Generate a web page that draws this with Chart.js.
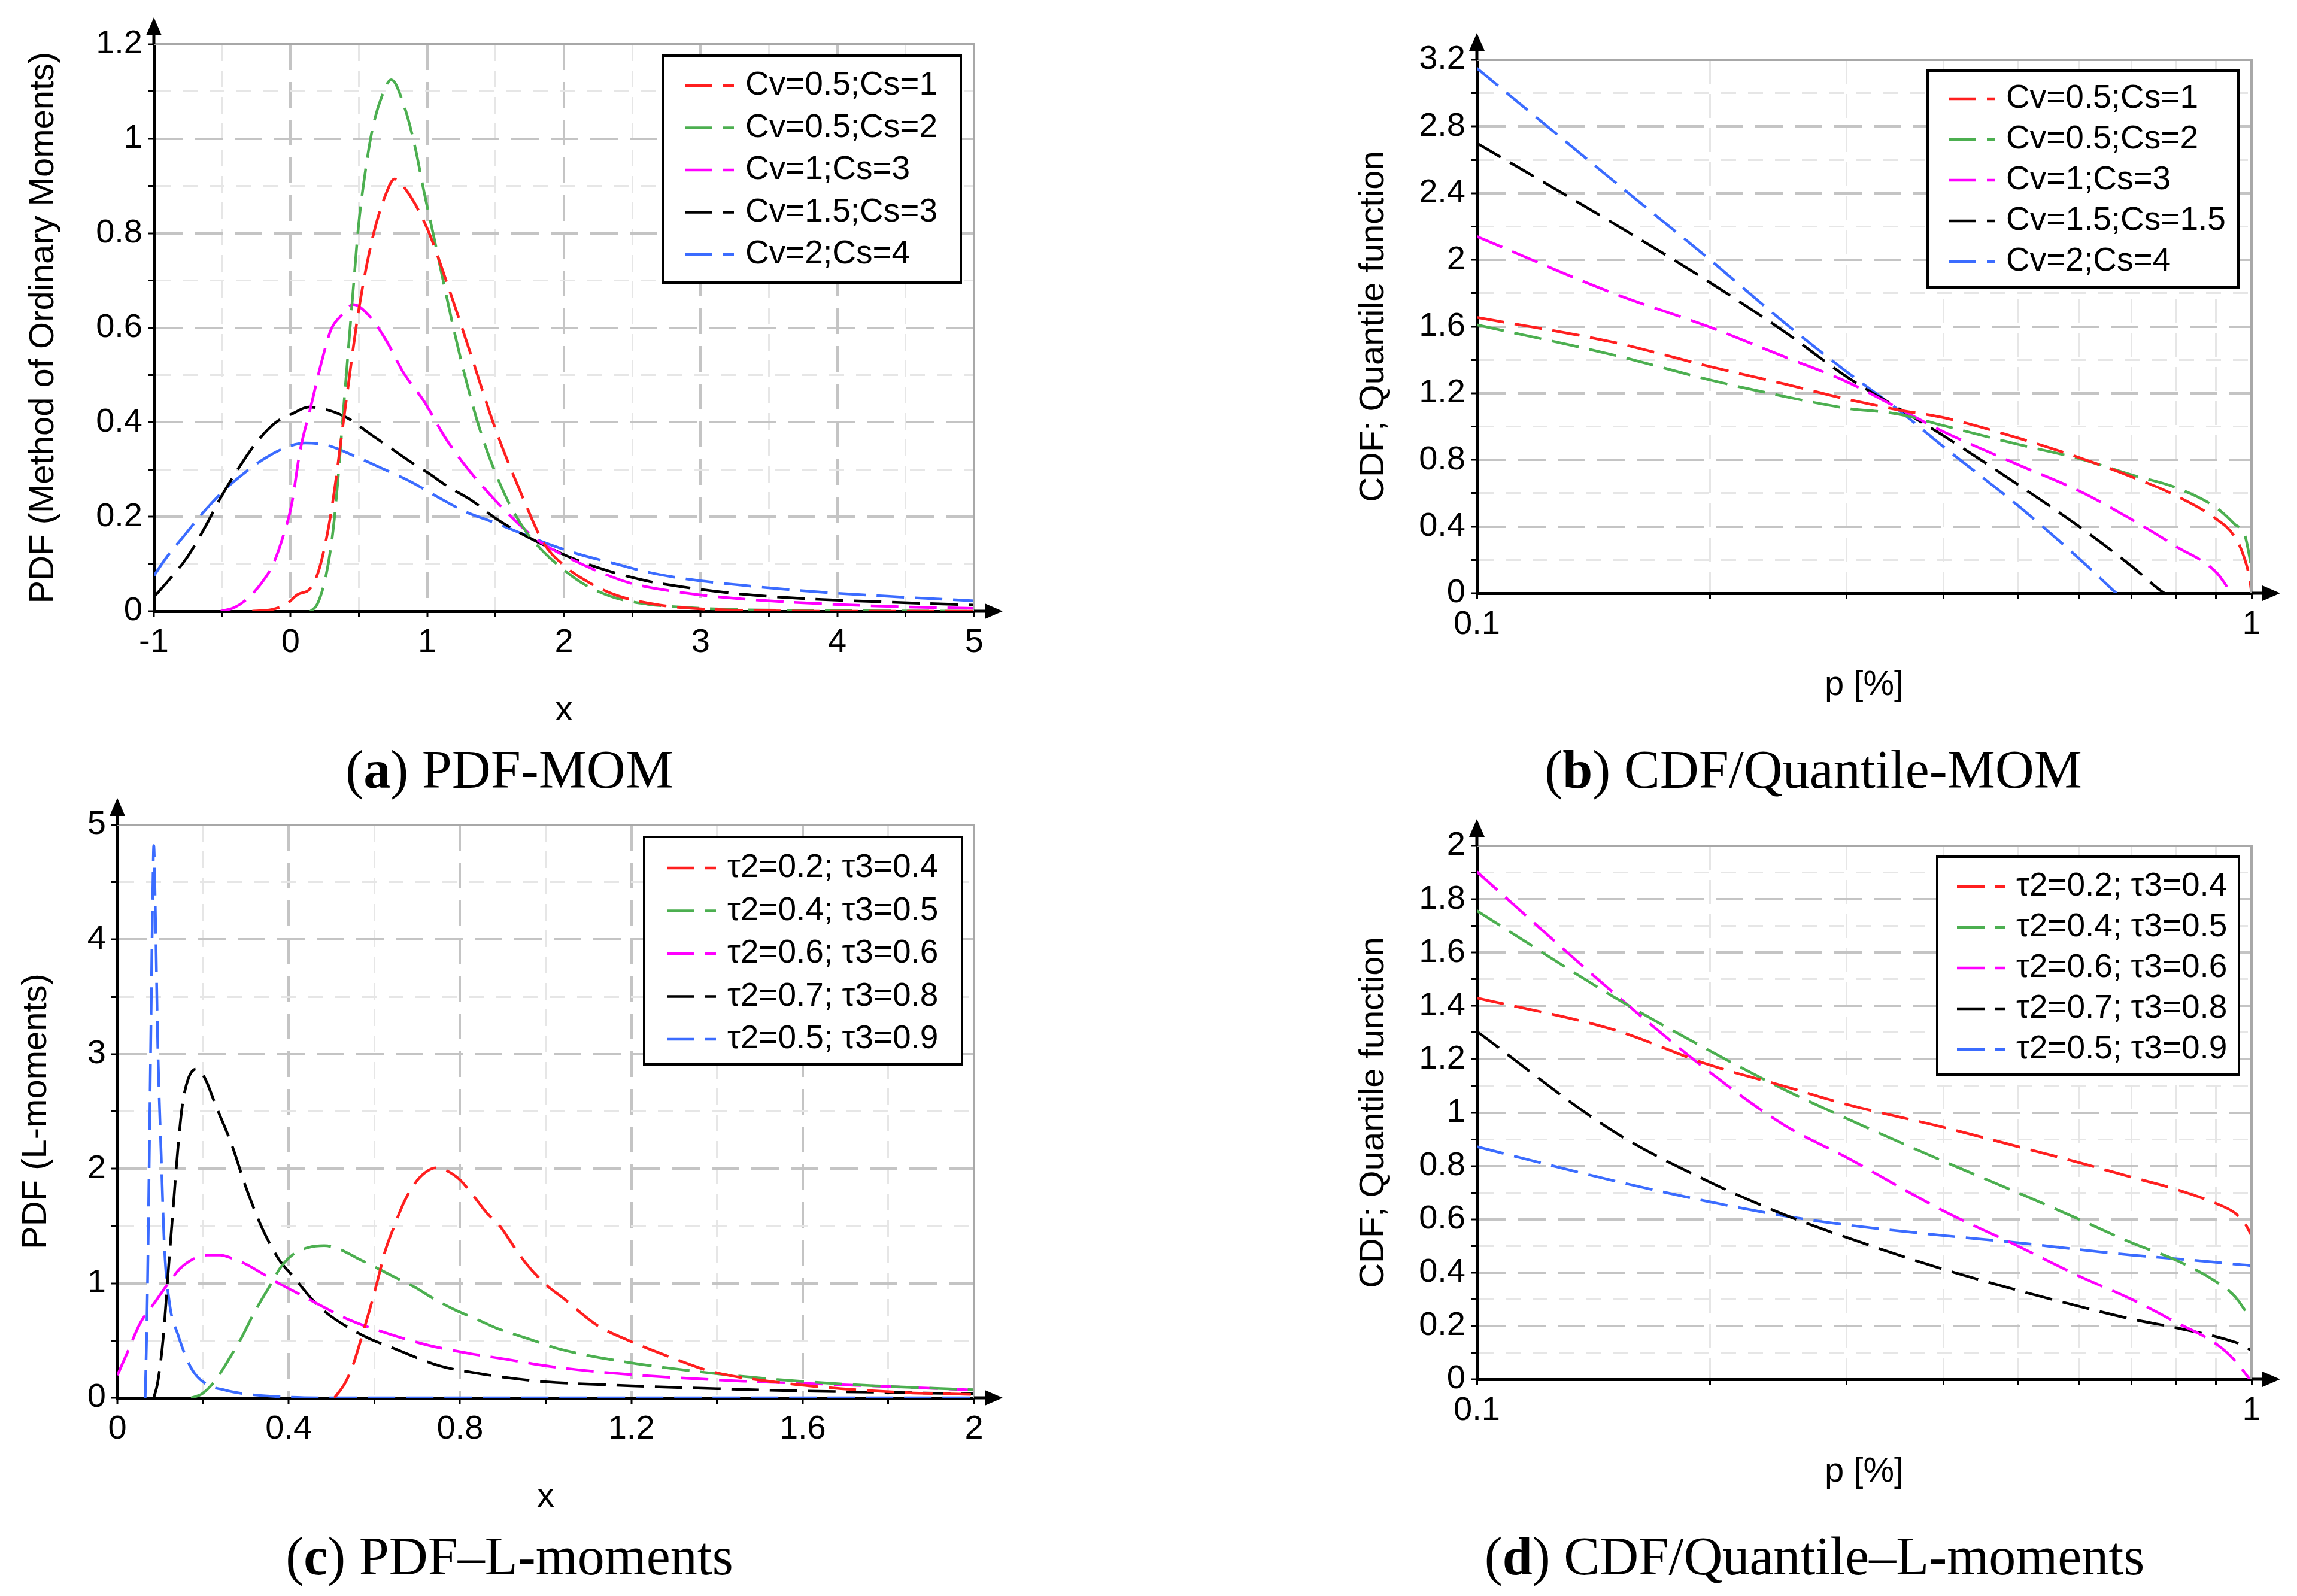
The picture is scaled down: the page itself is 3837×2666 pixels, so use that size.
<!DOCTYPE html>
<html>
<head>
<meta charset="utf-8">
<title>PDF and quantile functions</title>
<script src="https://cdn.jsdelivr.net/npm/chart.js@4.4.1/dist/chart.umd.min.js"></script>
<style>
  body { margin: 0; width: 3837px; height: 2666px; background: #fff; position: relative; overflow: hidden; }
  canvas { position: absolute; }
  .cap { position: absolute; transform: translate(-50%, -50%); white-space: nowrap;
         font-family: "Liberation Serif", "Times New Roman", serif; font-size: 90px; color: #000; }
</style>
</head>
<body>
<canvas id="pdfMom"></canvas>
<canvas id="cdfMom"></canvas>
<canvas id="pdfLmom"></canvas>
<canvas id="cdfLmom"></canvas>
<div class="cap" style="left:851px;top:1285px">(<b>a</b>) PDF-MOM</div>
<div class="cap" style="left:3029px;top:1285px">(<b>b</b>) CDF/Quantile-MOM</div>
<div class="cap" style="left:851px;top:2599px">(<b>c</b>) PDF–L-moments</div>
<div class="cap" style="left:3031px;top:2599px">(<b>d</b>) CDF/Quantile–L-moments</div>
<script>
// legend labels
const momLabels = ['Cv=0.5;Cs=1', 'Cv=0.5;Cs=2', 'Cv=1;Cs=3', 'Cv=1.5;Cs=3', 'Cv=2;Cs=4'];
const momQLabels = ['Cv=0.5;Cs=1', 'Cv=0.5;Cs=2', 'Cv=1;Cs=3', 'Cv=1.5;Cs=1.5', 'Cv=2;Cs=4'];
const lmomLabels = ['τ2=0.2; τ3=0.4', 'τ2=0.4; τ3=0.5', 'τ2=0.6; τ3=0.6', 'τ2=0.7; τ3=0.8', 'τ2=0.5; τ3=0.9'];
const seriesColors = ['#ff1f1f', '#4caf50', '#ff00ff', '#000000', '#3b6cff'];

// (a) PDF, method of ordinary moments
const aRedX = [-0.28, -0.13, -0.03, 0.05, 0.15, 0.22, 0.3, 0.4, 0.5, 0.6, 0.7, 0.76, 0.85, 1.0, 1.15, 1.3, 1.5, 1.7, 1.85, 2.0, 2.2, 2.4, 2.7, 3.0, 3.5, 4.0, 5.0];
const aRedY = [0, 0.004, 0.015, 0.035, 0.05, 0.1, 0.215, 0.43, 0.64, 0.79, 0.885, 0.915, 0.89, 0.81, 0.69, 0.56, 0.385, 0.24, 0.145, 0.097, 0.058, 0.032, 0.013, 0.005, 0.001, 0, 0];
const aGreenX = [0.146, 0.196, 0.259, 0.309, 0.347, 0.384, 0.422, 0.46, 0.497, 0.535, 0.598, 0.673, 0.736, 0.837, 0.912, 0.975, 1.05, 1.126, 1.2, 1.276, 1.377, 1.477, 1.603, 1.729, 1.854, 1.98, 2.13, 2.357, 2.608, 2.9, 3.2, 3.6, 4.2, 5.0];
const aGreenY = [0, 0.015, 0.075, 0.166, 0.279, 0.415, 0.551, 0.687, 0.815, 0.906, 1.019, 1.094, 1.125, 1.064, 0.981, 0.89, 0.79, 0.687, 0.589, 0.498, 0.392, 0.309, 0.226, 0.166, 0.125, 0.092, 0.06, 0.03, 0.015, 0.008, 0.004, 0.002, 0.001, 0];
const aMagX = [-0.51, -0.41, -0.33, -0.23, -0.13, -0.055, 0.008, 0.07, 0.146, 0.221, 0.296, 0.372, 0.46, 0.573, 0.698, 0.824, 0.975, 1.126, 1.276, 1.452, 1.628, 1.804, 1.98, 2.23, 2.48, 2.9, 3.3, 3.8, 4.4, 5.0];
const aMagY = [0, 0.008, 0.023, 0.053, 0.098, 0.158, 0.226, 0.34, 0.43, 0.521, 0.596, 0.626, 0.649, 0.626, 0.574, 0.506, 0.445, 0.37, 0.309, 0.249, 0.196, 0.151, 0.121, 0.087, 0.06, 0.038, 0.026, 0.017, 0.01, 0.006];
const aBlackX = [-1, -0.884, -0.759, -0.633, -0.508, -0.382, -0.256, -0.106, 0.02, 0.133, 0.271, 0.422, 0.573, 0.724, 0.874, 1.0, 1.151, 1.327, 1.503, 1.678, 1.854, 2.055, 2.307, 2.608, 2.9, 3.3, 3.8, 4.4, 5.0];
const aBlackY = [0.03, 0.068, 0.113, 0.174, 0.242, 0.302, 0.355, 0.4, 0.419, 0.432, 0.426, 0.408, 0.377, 0.347, 0.317, 0.294, 0.264, 0.234, 0.196, 0.166, 0.14, 0.113, 0.087, 0.064, 0.05, 0.036, 0.026, 0.019, 0.013];
const aBlueX = [-1, -0.91, -0.784, -0.633, -0.482, -0.332, -0.18, -0.03, 0.108, 0.271, 0.472, 0.673, 0.874, 1.075, 1.276, 1.477, 1.678, 1.879, 2.106, 2.357, 2.608, 2.9, 3.3, 3.8, 4.4, 5.0];
const aBlueY = [0.075, 0.113, 0.158, 0.211, 0.257, 0.294, 0.325, 0.347, 0.356, 0.351, 0.328, 0.302, 0.275, 0.242, 0.211, 0.189, 0.166, 0.143, 0.121, 0.102, 0.083, 0.068, 0.055, 0.042, 0.031, 0.022];

// (b) quantile function, method of ordinary moments (p on log axis)
const bRedP = [0.1, 0.15, 0.2, 0.25, 0.3, 0.35, 0.4, 0.5, 0.6, 0.7, 0.8, 0.9, 0.95, 0.977, 0.995, 1];
const bRedQ = [1.655, 1.506, 1.36, 1.255, 1.165, 1.1, 1.054, 0.931, 0.813, 0.699, 0.584, 0.446, 0.343, 0.223, 0.08, 0];
const bGreenP = [0.1, 0.15, 0.2, 0.25, 0.3, 0.35, 0.4, 0.5, 0.6, 0.7, 0.8, 0.9, 0.95, 0.981, 0.994, 1];
const bGreenQ = [1.61, 1.43, 1.28, 1.18, 1.11, 1.075, 1.006, 0.893, 0.807, 0.711, 0.633, 0.514, 0.416, 0.343, 0.22, 0.15];
const bMagP = [0.1, 0.15, 0.2, 0.25, 0.3, 0.35, 0.4, 0.5, 0.6, 0.7, 0.8, 0.9, 0.942];
const bMagQ = [2.14, 1.8, 1.596, 1.417, 1.27, 1.11, 0.97, 0.771, 0.612, 0.443, 0.28, 0.127, 0];
const bBlackP = [0.1, 0.15, 0.2, 0.25, 0.3, 0.35, 0.4, 0.5, 0.6, 0.7, 0.762, 0.772];
const bBlackQ = [2.7, 2.22, 1.864, 1.566, 1.3, 1.11, 0.946, 0.65, 0.398, 0.163, 0.018, 0];
const bBlueP = [0.1, 0.15, 0.2, 0.25, 0.3, 0.35, 0.4, 0.5, 0.6, 0.669];
const bBlueQ = [3.15, 2.475, 2.0, 1.62, 1.33, 1.1, 0.88, 0.524, 0.205, 0];

// (c) PDF, L-moments
const cRedX = [0.507, 0.532, 0.551, 0.57, 0.588, 0.607, 0.625, 0.644, 0.669, 0.694, 0.719, 0.744, 0.768, 0.8, 0.83, 0.861, 0.893, 0.924, 0.955, 1.0, 1.043, 1.119, 1.194, 1.285, 1.39, 1.54, 1.69, 1.845, 2.0];
const cRedY = [0, 0.131, 0.295, 0.525, 0.754, 1.016, 1.279, 1.475, 1.705, 1.869, 1.967, 2.007, 1.984, 1.902, 1.77, 1.62, 1.5, 1.33, 1.17, 0.99, 0.864, 0.636, 0.5, 0.364, 0.227, 0.136, 0.08, 0.045, 0.03];
const cGreenX = [0.172, 0.197, 0.228, 0.259, 0.29, 0.321, 0.352, 0.383, 0.414, 0.445, 0.483, 0.52, 0.563, 0.607, 0.65, 0.694, 0.737, 0.787, 0.837, 0.886, 0.966, 1.028, 1.179, 1.36, 1.542, 1.769, 2.0];
const cGreenY = [0, 0.033, 0.148, 0.328, 0.525, 0.754, 0.951, 1.148, 1.262, 1.311, 1.328, 1.295, 1.213, 1.131, 1.049, 0.967, 0.869, 0.77, 0.689, 0.607, 0.508, 0.43, 0.318, 0.227, 0.159, 0.105, 0.07];
const cMagX = [0, 0.023, 0.054, 0.085, 0.116, 0.147, 0.178, 0.209, 0.24, 0.271, 0.302, 0.34, 0.377, 0.427, 0.476, 0.542, 0.635, 0.725, 0.818, 0.911, 1.013, 1.209, 1.466, 1.693, 2.0];
const cMagY = [0.197, 0.393, 0.656, 0.82, 0.984, 1.13, 1.213, 1.246, 1.246, 1.213, 1.164, 1.082, 1.0, 0.9, 0.803, 0.68, 0.557, 0.46, 0.39, 0.335, 0.273, 0.2, 0.145, 0.114, 0.068];
const cBlackX = [0.085, 0.094, 0.107, 0.119, 0.13, 0.141, 0.152, 0.166, 0.184, 0.203, 0.231, 0.268, 0.3, 0.337, 0.377, 0.409, 0.47, 0.563, 0.66, 0.753, 0.843, 0.936, 1.0, 1.2, 1.4, 1.6, 1.8, 2.0];
const cBlackY = [0, 0.13, 0.52, 1.11, 1.64, 2.16, 2.56, 2.79, 2.87, 2.8, 2.54, 2.2, 1.84, 1.49, 1.21, 1.066, 0.8, 0.564, 0.41, 0.279, 0.213, 0.164, 0.14, 0.105, 0.08, 0.06, 0.047, 0.036];
const cBlueX = [0.065, 0.0696, 0.0745, 0.079, 0.0826, 0.085, 0.089, 0.0944, 0.1025, 0.11, 0.122, 0.141, 0.172, 0.203, 0.253, 0.302, 0.396, 0.49, 0.7, 1.0, 2.0];
const cBlueY = [0, 0.79, 2.1, 3.41, 4.39, 4.82, 4.2, 3.08, 2.1, 1.31, 0.82, 0.557, 0.262, 0.131, 0.066, 0.033, 0.007, 0, 0, 0, 0];

// (d) quantile function, L-moments (p on log axis)
const dP = [0.1, 0.15, 0.2, 0.25, 0.3, 0.4, 0.5, 0.6, 0.7, 0.8, 0.9, 0.95, 0.98, 1];
const dRedQ = [1.43, 1.311, 1.178, 1.098, 1.031, 0.945, 0.872, 0.812, 0.758, 0.712, 0.659, 0.625, 0.585, 0.539];
const dGreenQ = [1.757, 1.435, 1.231, 1.085, 0.978, 0.818, 0.699, 0.599, 0.512, 0.446, 0.366, 0.313, 0.26, 0.22];
const dMagP = [0.1, 0.15, 0.2, 0.25, 0.3, 0.4, 0.5, 0.6, 0.7, 0.8, 0.9, 0.95, 0.995];
const dMagQ = [1.903, 1.45, 1.151, 0.951, 0.832, 0.632, 0.499, 0.386, 0.3, 0.213, 0.133, 0.073, 0];
const dBlackQ = [1.304, 0.93, 0.739, 0.616, 0.532, 0.413, 0.333, 0.273, 0.226, 0.193, 0.16, 0.14, 0.125, 0.106];
const dBlueQ = [0.872, 0.745, 0.665, 0.612, 0.579, 0.539, 0.512, 0.486, 0.466, 0.452, 0.439, 0.432, 0.429, 0.426];

Chart.defaults.font.family = '"Liberation Sans", Arial, sans-serif';
Chart.defaults.color = '#000';

function points(xs, ys) {
    return xs.map(function (x, i) { return {x: x, y: ys[i]}; });
}

function stepTicks(min, max, step) {
    var out = [];
    var n = Math.round((max - min) / step);
    for (var i = 0; i <= n; i++) out.push({value: +(min + i * step).toFixed(6)});
    return out;
}

function onStep(v, step) {
    var r = v / step;
    return Math.abs(r - Math.round(r)) < 1e-6;
}

function fmt(v) { return String(+v.toFixed(4)); }

// grey frame on top/right, arrow heads on the two axes
const axisFrame = {
    id: 'axisFrame',
    afterDraw(chart) {
        const ctx = chart.ctx, a = chart.chartArea;
        ctx.save();
        ctx.strokeStyle = '#a8a8a8';
        ctx.lineWidth = 4;
        ctx.beginPath();
        ctx.moveTo(a.left, a.top);
        ctx.lineTo(a.right, a.top);
        ctx.lineTo(a.right, a.bottom);
        ctx.stroke();
        ctx.strokeStyle = '#000';
        ctx.lineWidth = 5;
        ctx.beginPath();
        ctx.moveTo(a.left, a.top);
        ctx.lineTo(a.left, a.top - 20);
        ctx.moveTo(a.right, a.bottom);
        ctx.lineTo(a.right + 20, a.bottom);
        ctx.stroke();
        ctx.fillStyle = '#000';
        ctx.beginPath();
        ctx.moveTo(a.left, a.top - 45);
        ctx.lineTo(a.left - 13, a.top - 15);
        ctx.lineTo(a.left + 13, a.top - 15);
        ctx.closePath();
        ctx.fill();
        ctx.beginPath();
        ctx.moveTo(a.right + 48, a.bottom);
        ctx.lineTo(a.right + 18, a.bottom - 13);
        ctx.lineTo(a.right + 18, a.bottom + 13);
        ctx.closePath();
        ctx.fill();
        ctx.restore();
    }
};

// framed legend inside the plot, top right
const boxedLegend = {
    id: 'boxedLegend',
    afterDraw(chart, args, opts) {
        const ctx = chart.ctx, a = chart.chartArea;
        const left = a.right - opts.right - opts.width;
        const top = a.top + opts.top;
        ctx.save();
        ctx.fillStyle = '#fff';
        ctx.fillRect(left, top, opts.width, opts.height);
        ctx.strokeStyle = '#000';
        ctx.lineWidth = 4;
        ctx.strokeRect(left, top, opts.width, opts.height);
        ctx.font = '55px "Liberation Sans", Arial, sans-serif';
        ctx.textBaseline = 'middle';
        ctx.textAlign = 'left';
        chart.data.datasets.forEach(function (ds, i) {
            const y = top + opts.first + i * opts.gap;
            ctx.strokeStyle = ds.borderColor;
            ctx.lineWidth = ds.borderWidth;
            ctx.setLineDash(ds.borderDash);
            ctx.beginPath();
            ctx.moveTo(left + opts.lineX, y);
            ctx.lineTo(left + opts.lineX + opts.lineLen, y);
            ctx.stroke();
            ctx.setLineDash([]);
            ctx.fillStyle = '#000';
            ctx.fillText(ds.label, left + opts.textX, y);
        });
        ctx.restore();
    }
};

function gridStyle(major) {
    return {
        color: function (c) { return c.tick && onStep(c.tick.value, major) ? '#c4c4c4' : '#e6e6e6'; },
        lineWidth: function (c) { return c.tick && onStep(c.tick.value, major) ? 4 : 3; },
        tickColor: '#000',
        tickWidth: 3,
        tickLength: 10,
        tickBorderDash: []
    };
}

function drawPanel(p) {
    const canvas = document.getElementById(p.id);
    const cx = p.box[0], cy = p.box[1], cw = p.box[2], ch = p.box[3];
    canvas.width = cw;
    canvas.height = ch;
    canvas.style.left = cx + 'px';
    canvas.style.top = cy + 'px';
    canvas.style.width = cw + 'px';
    canvas.style.height = ch + 'px';
    const L = p.area[0], T = p.area[1], R = p.area[2], B = p.area[3];
    const padLeft = 10;
    const yW = L - cx - padLeft;
    const xBottom = p.xTitleY + 35 + 10;
    const xH = xBottom - B;

    const xScale = p.logX ? {
        type: 'logarithmic',
        min: 0.1, max: 1,
        afterBuildTicks: function (s) { s.ticks = stepTicks(0.1, 1, 0.1); },
        ticks: {
            autoSkip: false, maxRotation: 0, padding: 9, font: {size: 56},
            callback: function (v) { return (Math.abs(v - 0.1) < 1e-6 || Math.abs(v - 1) < 1e-6) ? fmt(v) : ''; }
        },
        grid: {color: '#e6e6e6', lineWidth: 3, tickColor: '#000', tickWidth: 3, tickLength: 10, tickBorderDash: []},
        border: {color: '#000', width: 5, dash: [40, 17]}
    } : {
        type: 'linear',
        min: p.xMin, max: p.xMax,
        afterBuildTicks: function (s) { s.ticks = stepTicks(p.xMin, p.xMax, p.xStep); },
        ticks: {
            autoSkip: false, maxRotation: 0, padding: 9, font: {size: 56},
            callback: function (v) { return onStep(v, p.xMajor) ? fmt(v) : ''; }
        },
        grid: gridStyle(p.xMajor),
        border: {
            color: '#000', width: 5,
            dash: function (c) { return c.tick && onStep(c.tick.value, p.xMajor) ? [43, 20] : [28, 16]; }
        }
    };
    xScale.afterFit = function (s) { s.height = xH; };
    xScale.title = {display: true, text: p.xTitle, font: {size: 58}, color: '#000', padding: {top: 0, bottom: 10}};

    const yScale = {
        type: 'linear',
        min: p.yMin, max: p.yMax,
        afterBuildTicks: function (s) { s.ticks = stepTicks(p.yMin, p.yMax, p.yStep); },
        afterFit: function (s) { s.width = yW; },
        ticks: {
            autoSkip: false, padding: 9, font: {size: 56},
            callback: function (v) { return onStep(v, p.yMajor) ? fmt(v) : ''; }
        },
        grid: gridStyle(p.yMajor),
        border: {
            color: '#000', width: 5,
            dash: function (c) { return c.tick && onStep(c.tick.value, p.yMajor) ? [46, 20] : [25, 20]; }
        },
        title: {display: true, text: p.yTitle, font: {size: 58}, color: '#000',
                padding: {top: p.yTitleX - cx - padLeft - 35, bottom: 0}}
    };

    new Chart(canvas.getContext('2d'), {
        type: 'line',
        data: {
            datasets: p.series.map(function (s, i) {
                return {
                    label: p.labels[i],
                    data: points(s[0], s[1]),
                    borderColor: seriesColors[i],
                    backgroundColor: seriesColors[i],
                    borderWidth: 4.5,
                    borderDash: [46, 18],
                    pointRadius: 0,
                    fill: false,
                    cubicInterpolationMode: 'monotone'
                };
            })
        },
        options: {
            responsive: false,
            animation: false,
            devicePixelRatio: 1,
            events: [],
            layout: {
                padding: {left: padLeft, top: T - cy, right: cx + cw - R, bottom: cy + ch - xBottom}
            },
            scales: {x: xScale, y: yScale},
            plugins: {
                legend: {display: false},
                tooltip: {enabled: false},
                boxedLegend: p.legend
            }
        },
        plugins: [axisFrame, boxedLegend]
    });
}

drawPanel({
    id: 'pdfMom', box: [0, 0, 1800, 1240], area: [257, 74, 1627, 1021],
    xMin: -1, xMax: 5, xStep: 0.5, xMajor: 1,
    yMin: 0, yMax: 1.2, yStep: 0.1, yMajor: 0.2,
    xTitle: 'x', xTitleY: 1187, yTitle: 'PDF (Method of Ordinary Moments)', yTitleX: 73,
    labels: momLabels,
    series: [[aRedX, aRedY], [aGreenX, aGreenY], [aMagX, aMagY], [aBlackX, aBlackY], [aBlueX, aBlueY]],
    legend: {right: 22, top: 19, width: 497, height: 379, first: 50, gap: 70.5, lineX: 36, lineLen: 82, textX: 137}
});

drawPanel({
    id: 'cdfMom', box: [1900, 0, 1937, 1240], area: [2467, 100, 3761, 991], logX: true,
    yMin: 0, yMax: 3.2, yStep: 0.2, yMajor: 0.4,
    xTitle: 'p [%]', xTitleY: 1145, yTitle: 'CDF; Quantile function', yTitleX: 2295,
    labels: momQLabels,
    series: [[bRedP, bRedQ], [bGreenP, bGreenQ], [bMagP, bMagQ], [bBlackP, bBlackQ], [bBlueP, bBlueQ]],
    legend: {right: 22, top: 18, width: 519, height: 362, first: 47, gap: 68, lineX: 35, lineLen: 78, textX: 131}
});

drawPanel({
    id: 'pdfLmom', box: [0, 1320, 1800, 1240], area: [196, 1378, 1627, 2335],
    xMin: 0, xMax: 2, xStep: 0.2, xMajor: 0.4,
    yMin: 0, yMax: 5, yStep: 0.5, yMajor: 1,
    xTitle: 'x', xTitleY: 2501, yTitle: 'PDF (L-moments)', yTitleX: 61,
    labels: lmomLabels,
    series: [[cRedX, cRedY], [cGreenX, cGreenY], [cMagX, cMagY], [cBlackX, cBlackY], [cBlueX, cBlueY]],
    legend: {right: 20, top: 20, width: 531, height: 380, first: 52, gap: 71.5, lineX: 38, lineLen: 82, textX: 139}
});

drawPanel({
    id: 'cdfLmom', box: [1900, 1320, 1937, 1240], area: [2467, 1413, 3761, 2304], logX: true,
    yMin: 0, yMax: 2, yStep: 0.1, yMajor: 0.2,
    xTitle: 'p [%]', xTitleY: 2459, yTitle: 'CDF; Quantile function', yTitleX: 2295,
    labels: lmomLabels,
    series: [[dP, dRedQ], [dP, dGreenQ], [dMagP, dMagQ], [dP, dBlackQ], [dP, dBlueQ]],
    legend: {right: 21, top: 18, width: 504, height: 364, first: 50, gap: 68, lineX: 33, lineLen: 80, textX: 132}
});
</script>
</body>
</html>
